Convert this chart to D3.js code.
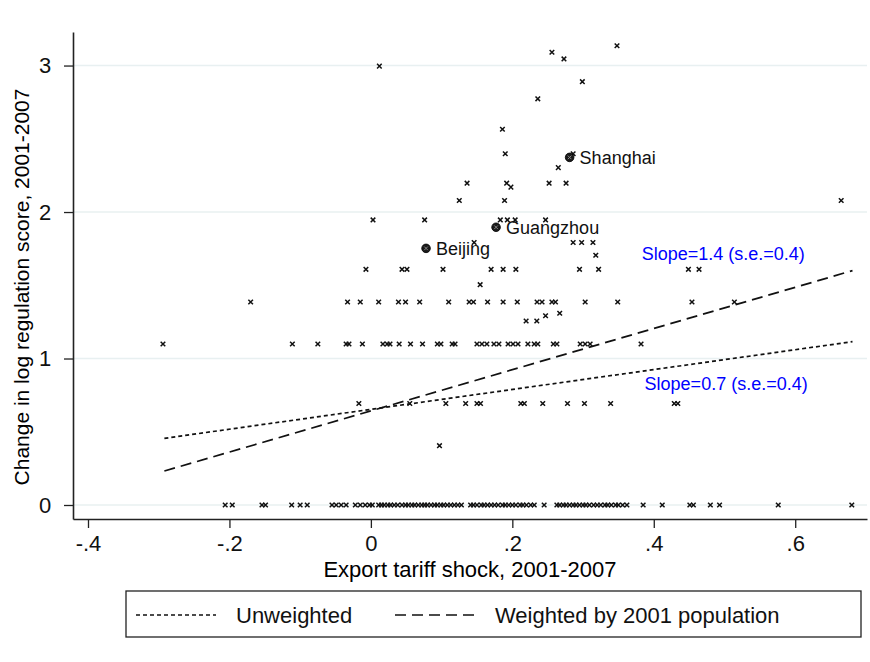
<!DOCTYPE html>
<html>
<head>
<meta charset="utf-8">
<script src="https://d3js.org/d3.v7.min.js"></script>
<style>
  body { margin: 0; background: #fff; }
  svg { font-family: "Liberation Sans", Arial, sans-serif; }
</style>
</head>
<body>
<div id="graph"></div>
<script>
// x values of prefectures, grouped by their regulation score change (y)
const xAt0 = [-0.206, -0.196, -0.154, -0.149, -0.112, -0.100, -0.090, -0.055, -0.049, -0.042, -0.035,
  -0.022, -0.015, -0.008, -0.002, 0.002, 0.011, 0.015, 0.019, 0.024, 0.028, 0.033, 0.038, 0.044,
  0.049, 0.053, 0.058, 0.062, 0.067, 0.072, 0.076, 0.080, 0.085, 0.090, 0.094, 0.099, 0.103, 0.108,
  0.113, 0.118, 0.123, 0.128, 0.141, 0.145, 0.150, 0.156, 0.160, 0.165, 0.170, 0.175, 0.180, 0.186,
  0.190, 0.195, 0.200, 0.205, 0.211, 0.215, 0.220, 0.226, 0.231, 0.245, 0.263, 0.267, 0.272, 0.276,
  0.281, 0.286, 0.290, 0.295, 0.300, 0.304, 0.309, 0.315, 0.320, 0.325, 0.331, 0.335, 0.340, 0.346,
  0.350, 0.356, 0.362, 0.385, 0.412, 0.451, 0.456, 0.480, 0.493, 0.576, 0.680];
const xAt04 = [0.097];
const xAt07 = [-0.017, 0.055, 0.106, 0.134, 0.150, 0.155, 0.212, 0.217, 0.243, 0.278, 0.302, 0.339, 0.429, 0.434];
const xAt11 = [-0.294, -0.111, -0.075, -0.035, -0.031, -0.012, 0.017, 0.023, 0.027, 0.040, 0.056, 0.073,
  0.094, 0.099, 0.115, 0.119, 0.150, 0.157, 0.164, 0.174, 0.181, 0.194, 0.201, 0.208, 0.222, 0.231,
  0.236, 0.258, 0.263, 0.296, 0.303, 0.310, 0.382];
const xAt125 = [0.2195, 0.2346];
const xAt139 = [-0.170, -0.033, -0.015, 0.011, 0.039, 0.049, 0.069, 0.110, 0.139, 0.145, 0.165, 0.187,
  0.207, 0.235, 0.242, 0.256, 0.261, 0.303, 0.349, 0.454, 0.514];
const xAt150 = [0.1545];
const xAt161 = [-0.007, 0.044, 0.051, 0.102, 0.170, 0.187, 0.205, 0.295, 0.322, 0.449, 0.464];
const xAt171 = [0.318];
const xAt179 = [0.146, 0.286, 0.298, 0.314];
const xAt195 = [0.003, 0.076, 0.183, 0.193, 0.204, 0.247];
const xAt208 = [0.125, 0.189, 0.665];
const xAt220 = [0.136, 0.192, 0.252, 0.276];
const rowLevels = [0, 0.405, 0.693, 1.099, 1.256, 1.386, 1.504, 1.609, 1.705, 1.792, 1.946, 2.079, 2.197];
const rowXs = [xAt0, xAt04, xAt07, xAt11, xAt125, xAt139, xAt150, xAt161, xAt171, xAt179, xAt195, xAt208, xAt220];

// a few scattered single points (x, y)
const extraX = [0.247, 0.267, 0.198, 0.265, 0.190, 0.286, 0.186, 0.236, 0.299, 0.012, 0.273, 0.256, 0.348];
const extraY = [1.292, 1.309, 2.170, 2.303, 2.398, 2.398, 2.565, 2.773, 2.890, 2.996, 3.045, 3.091, 3.135];

// labelled cities
const cityNames = ['Shanghai', 'Guangzhou', 'Beijing'];
const cityX = [0.281, 0.177, 0.078];
const cityY = [2.373, 1.896, 1.752];

// fitted lines (end points)
const fitX = [-0.292, 0.681];
const unweightedY = [0.455, 1.115];
const weightedY = [0.232, 1.600];
const slopeLabels = ['Slope=1.4 (s.e.=0.4)', 'Slope=0.7 (s.e.=0.4)'];
const slopeLabelX = [0.383, 0.387];
const slopeLabelY = [1.675, 0.785];

const xTicks = [-0.4, -0.2, 0, 0.2, 0.4, 0.6];
const xTickLabels = ['-.4', '-.2', '0', '.2', '.4', '.6'];
const yTicks = [0, 1, 2, 3];
const legendLabels = ['Unweighted', 'Weighted by 2001 population'];

const w = 870, h = 662;
const plot = { left: 73, right: 867, top: 32, bottom: 519 };

const svg = d3.select('#graph').append('svg')
  .attr('width', w).attr('height', h);

const x = d3.scaleLinear().domain([-0.4212, 0.7015]).range([plot.left, plot.right]);
const y = d3.scaleLinear().domain([-0.0956, 3.229]).range([plot.bottom, plot.top]);

// grid lines
svg.append('g').selectAll('line')
  .data(yTicks).enter().append('line')
  .attr('x1', plot.left).attr('x2', plot.right)
  .attr('y1', d => y(d)).attr('y2', d => y(d))
  .style('stroke', '#e8f0f1').style('stroke-width', 1.5);

// axes
const xAxis = d3.axisBottom(x).tickValues(xTicks)
  .tickFormat((d, i) => xTickLabels[i]).tickSizeInner(9).tickSizeOuter(0).tickPadding(7);
const yAxis = d3.axisLeft(y).tickValues(yTicks)
  .tickFormat(d3.format('d')).tickSizeInner(9).tickSizeOuter(0).tickPadding(6);

const gx = svg.append('g').attr('transform', `translate(0,${plot.bottom})`).call(xAxis);
const gy = svg.append('g').attr('transform', `translate(${plot.left},0)`).call(yAxis);
[gx, gy].forEach(g => {
  g.select('.domain').style('stroke', '#222').style('stroke-width', 1.6);
  g.selectAll('.tick line').style('stroke', '#222').style('stroke-width', 1.3);
  g.selectAll('.tick text').style('font-size', '22px').style('fill', '#111')
    .style('font-family', '"Liberation Sans", Arial, sans-serif');
});
gy.selectAll('.tick text').attr('text-anchor', 'middle').attr('x', -28);

// axis titles
svg.append('text')
  .attr('x', 470).attr('y', 577)
  .attr('text-anchor', 'middle')
  .style('font-size', '22px')
  .text('Export tariff shock, 2001-2007');

svg.append('text')
  .attr('transform', 'translate(29,287) rotate(-90)')
  .attr('text-anchor', 'middle')
  .style('font-size', '21px')
  .text('Change in log regulation score, 2001-2007');

// scatter points
const pts = [];
rowXs.forEach((xs, i) => xs.forEach(v => pts.push([v, rowLevels[i]])));
extraX.forEach((v, i) => pts.push([v, extraY[i]]));

const cross = 'M-2.3,-2.3L2.3,2.3M-2.3,2.3L2.3,-2.3';
svg.append('g').selectAll('path')
  .data(pts).enter().append('path')
  .attr('d', cross)
  .attr('transform', d => `translate(${x(d[0])},${y(d[1])})`)
  .style('stroke', '#111').style('stroke-width', 1.5).style('fill', 'none');

// fitted lines
const line = d3.line().x(d => x(d[0])).y(d => y(d[1]));
svg.append('path')
  .datum(fitX.map((v, i) => [v, unweightedY[i]]))
  .attr('d', line)
  .style('fill', 'none').style('stroke', '#111').style('stroke-width', 1.7)
  .style('stroke-dasharray', '4,3');
svg.append('path')
  .datum(fitX.map((v, i) => [v, weightedY[i]]))
  .attr('d', line)
  .style('fill', 'none').style('stroke', '#111').style('stroke-width', 1.7)
  .style('stroke-dasharray', '11,6');

svg.append('g').selectAll('text')
  .data(slopeLabels).enter().append('text')
  .attr('x', (d, i) => x(slopeLabelX[i]))
  .attr('y', (d, i) => y(slopeLabelY[i]))
  .style('font-size', '18px').style('fill', '#0000ff')
  .text(d => d);

// cities
const cities = svg.append('g').selectAll('g')
  .data(cityNames).enter().append('g')
  .attr('transform', (d, i) => `translate(${x(cityX[i])},${y(cityY[i])})`);
cities.append('circle').attr('r', 4.3)
  .style('fill', '#1a1a1a').style('stroke', '#000').style('stroke-width', 0.8);
cities.append('path').attr('d', 'M-1.8,-1.8L1.8,1.8M-1.8,1.8L1.8,-1.8')
  .style('stroke', '#888').style('stroke-width', 1);
cities.append('text')
  .attr('x', 10).attr('y', 7)
  .style('font-size', '18px').style('fill', '#111')
  .text(d => d);

// legend
const legend = svg.append('g').attr('id', 'legend');
legend.append('rect')
  .attr('x', 126).attr('y', 591).attr('width', 735).attr('height', 46)
  .style('fill', '#fff').style('stroke', '#222').style('stroke-width', 1.3);
const legX = [136, 395];
const legDash = ['4,3', '11,6'];
legendLabels.forEach((lab, i) => {
  legend.append('line')
    .attr('x1', legX[i]).attr('x2', legX[i] + 80)
    .attr('y1', 615).attr('y2', 615)
    .style('stroke', '#111').style('stroke-width', 1.7)
    .style('stroke-dasharray', legDash[i]);
  legend.append('text')
    .attr('x', legX[i] + 100).attr('y', 623)
    .style('font-size', '22px').style('fill', '#111')
    .text(lab);
});
</script>
</body>
</html>
